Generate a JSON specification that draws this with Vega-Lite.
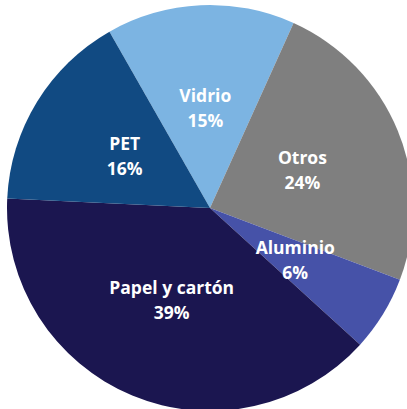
{
  "$schema": "https://vega.github.io/schema/vega-lite/v6.json",
  "width": 394,
  "height": 402,
  "padding": {"left": 13, "top": 7, "right": 0, "bottom": 0},
  "autosize": {"type": "none"},
  "background": "white",
  "config": {"view": {"stroke": null}},
  "data": {
    "values": [
      {"material": "Vidrio", "pct": 15, "orden": 1, "label": "Vidrio\n15%"},
      {"material": "Otros", "pct": 24, "orden": 2, "label": "Otros\n24%"},
      {"material": "Aluminio", "pct": 6, "orden": 3, "label": "Aluminio\n6%"},
      {"material": "Papel y cartón", "pct": 39, "orden": 4, "label": "Papel y cartón\n39%"},
      {"material": "PET", "pct": 16, "orden": 5, "label": "PET\n16%"}
    ]
  },
  "encoding": {
    "theta": {"field": "pct", "type": "quantitative", "stack": true, "scale": {"range": [-0.518, 5.765]}},
    "order": {"field": "orden", "type": "quantitative"}
  },
  "layer": [
    {
      "mark": {"type": "arc", "radius": 203},
      "encoding": {
        "color": {
          "field": "material",
          "type": "nominal",
          "scale": {
            "domain": ["Vidrio", "Otros", "Aluminio", "Papel y cartón", "PET"],
            "range": ["#7cb4e2", "#7f7f7f", "#4652a8", "#1b1650", "#114a82"]
          },
          "legend": null
        }
      }
    },
    {
      "mark": {"type": "text", "radius": 100, "dy": -11, "fill": "white", "font": "Open Sans", "fontWeight": "bold", "fontSize": 17.5, "lineBreak": "\n", "lineHeight": 25, "baseline": "middle", "align": "center"},
      "encoding": {
        "text": {"field": "label", "type": "nominal"}
      }
    }
  ]
}
